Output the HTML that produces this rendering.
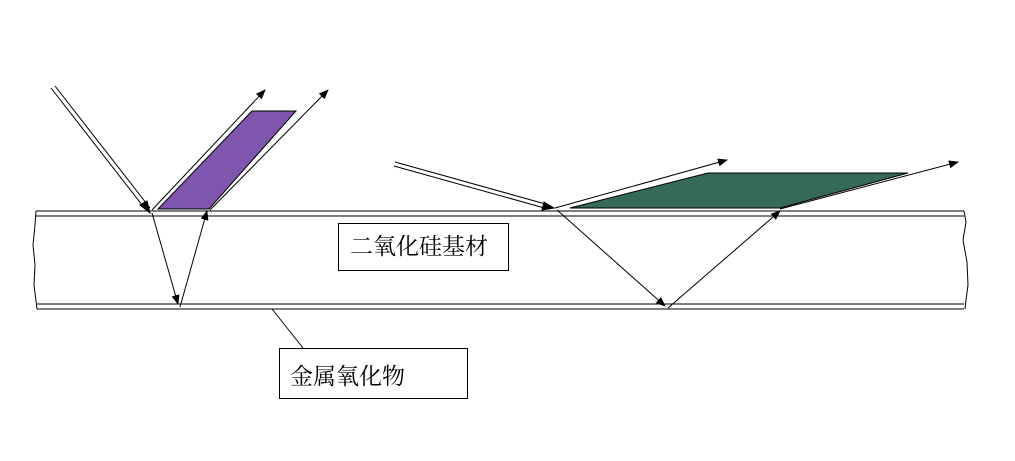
<!DOCTYPE html>
<html><head><meta charset="utf-8"><style>
html,body{margin:0;padding:0;background:#fff;width:1015px;height:461px;overflow:hidden}
svg{position:absolute;left:0;top:0}
.t{font-family:"Liberation Serif","Noto Serif CJK SC",serif;font-size:23px;fill:#000}
</style></head><body>
<svg width="1015" height="461" viewBox="0 0 1015 461">
<defs><marker id="a" markerWidth="10" markerHeight="8" refX="9" refY="4" orient="auto" markerUnits="userSpaceOnUse"><path d="M0,0 L10,4 L0,8 z" fill="#000"/></marker></defs>
<g stroke="#000" fill="none" stroke-width="1">
<line x1="36" y1="211" x2="964" y2="211"/>
<line x1="36" y1="216" x2="964" y2="216"/>
<line x1="37" y1="304" x2="964" y2="304"/>
<line x1="37" y1="309" x2="964" y2="309"/>
<path d="M36,211 L35,225 L33,245 L35,265 L34,285 L37,309"/>
<path d="M964,211 L966,222 L963,240 L967,262 L968,285 L966,300 L965,309"/>
<polygon points="252,111 296,111 209,209 158,209" fill="#7f56ad"/>
<line x1="51" y1="88" x2="146" y2="210"/>
<line x1="55" y1="86" x2="150" y2="208"/>
<path d="M150,213 L140,205 L147,201 z" fill="#000"/>
<line x1="152" y1="210" x2="265" y2="90" marker-end="url(#a)"/>
<line x1="210" y1="210" x2="328" y2="90" marker-end="url(#a)"/>
<line x1="152" y1="213" x2="178" y2="304" marker-end="url(#a)"/>
<line x1="180" y1="307" x2="207" y2="211" marker-end="url(#a)"/>
<polygon points="708,173 908,173 780,208 570,208" fill="#35695a"/>
<line x1="395" y1="162" x2="549" y2="205"/>
<line x1="394" y1="166" x2="548" y2="209"/>
<path d="M554,208 L542,210 L544,202 z" fill="#000"/>
<line x1="555" y1="208" x2="727" y2="160" marker-end="url(#a)"/>
<line x1="780" y1="209" x2="958" y2="162" marker-end="url(#a)"/>
<line x1="557" y1="210" x2="665" y2="306" marker-end="url(#a)"/>
<line x1="668" y1="308" x2="780" y2="211" marker-end="url(#a)"/>
<rect x="338.5" y="223.5" width="170" height="47"/>
<rect x="279.5" y="348.5" width="188" height="50"/>
<line x1="272" y1="309" x2="303" y2="348"/>
</g>
<text class="t" x="350" y="254">二氧化硅基材</text>
<text class="t" x="290" y="384">金属氧化物</text>
</svg>
</body></html>
